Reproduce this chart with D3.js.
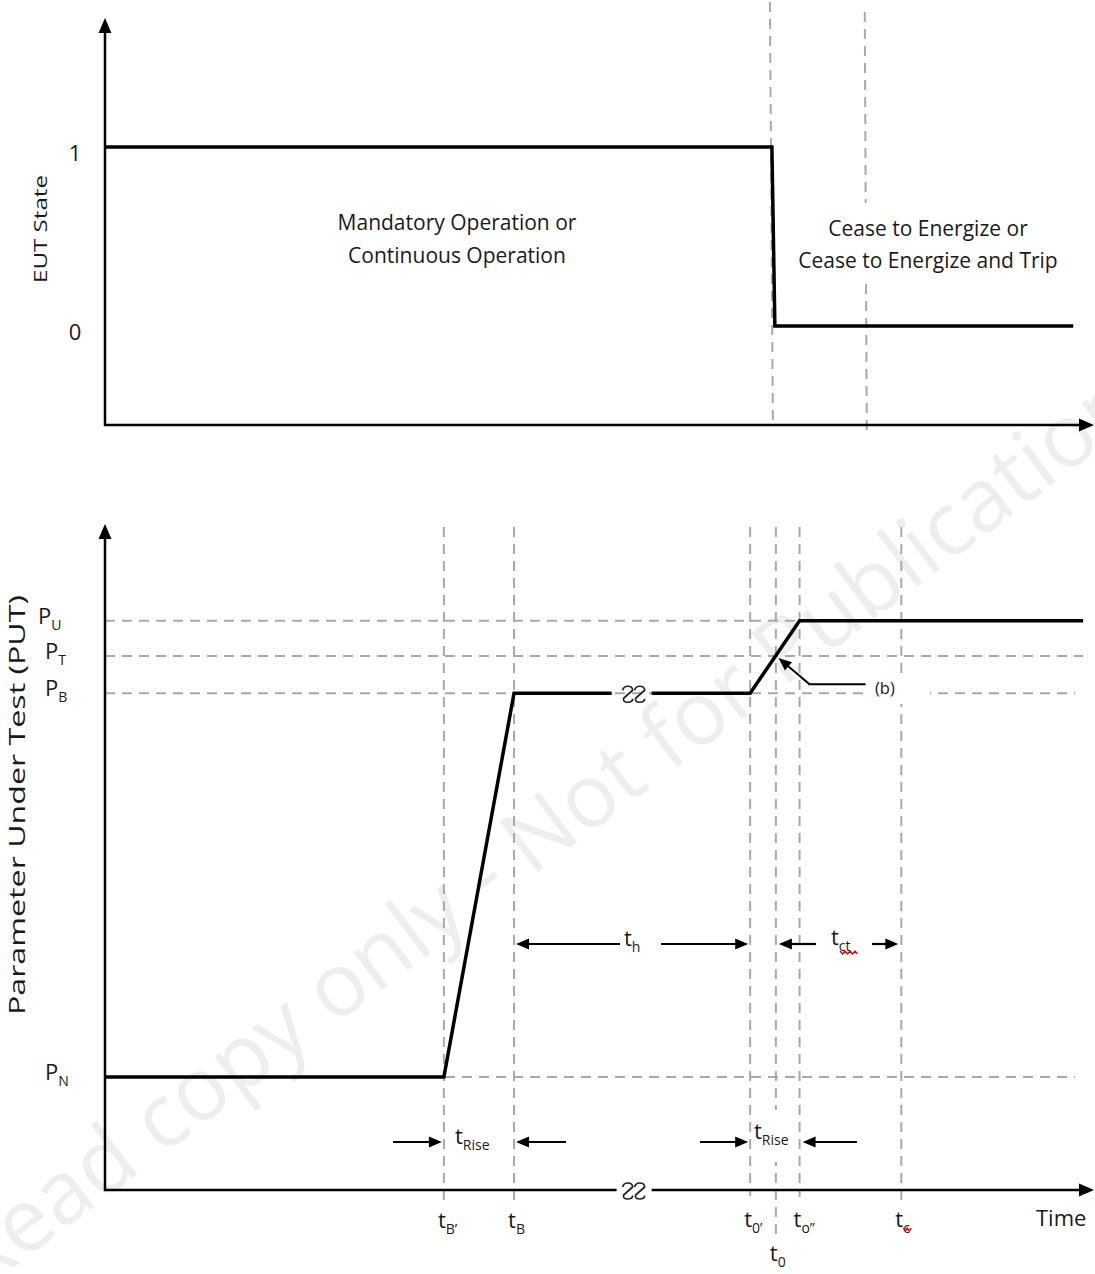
<!DOCTYPE html>
<html><head><meta charset="utf-8">
<script src="https://cdn.jsdelivr.net/npm/d3@7"></script>
<style>
body{margin:0;background:#fff}
svg{display:block}
text{font-family:"Open Sans",sans-serif;fill:#1a1a1a}
</style>
</head><body>
<script>
// ---- data ----------------------------------------------------------
// Time axis in arbitrary units, shared by both panels
const timeMarks   = ["B\u2019", "B", "0\u2019", "0", "o\u2019\u2019", "c"];
const timeValues  = [34.3, 41.4, 65.3, 67.9, 70.3, 80.6];
// EUT state trace
const stateTimes  = [0, 67.5, 67.8, 98.0];
const stateValues = [1, 1, 0, 0];
const stateTicks  = [0, 1];
const stateGuides = [67.4, 76.9];
// Parameter under test trace
const putTimes    = [0, 34.3, 41.4, 53.1, 65.3, 70.3, 99.0];
const putValues   = [17.0, 17.0, 74.7, 74.7, 74.7, 85.6, 85.6];
const levelNames  = ["N", "B", "T", "U"];
const levelValues = [17.0, 74.7, 80.3, 85.6];
const axisBreakAt = 53.1;

// ---- setup ---------------------------------------------------------
const W = 1095, H = 1274;
const svg = d3.select("body").append("svg").attr("width", W).attr("height", H);

const x = d3.scaleLinear().domain([0, 100]).range([105, 1093]);
const yTop = d3.scaleLinear().domain([0, 1]).range([326, 147]);
const yBot = d3.scaleLinear().domain([0, 100]).range([1190, 525]);

const GRID = "#a9a9a9";
const dash = "10,7";

// watermark
svg.append("text")
  .attr("transform", "translate(-22,1294) rotate(-37)")
  .attr("font-size", 88)
  .style("fill", "#eeeeee")
  .text("Read copy only - Not for Publication");

function arrowHead(g, x1, y1, x2, y2, len = 13, half = 5.5) {
  const a = Math.atan2(y2 - y1, x2 - x1);
  const bx = x2 - len * Math.cos(a), by = y2 - len * Math.sin(a);
  const px = -Math.sin(a) * half, py = Math.cos(a) * half;
  g.append("path")
    .attr("d", `M${x2},${y2}L${bx + px},${by + py}L${bx - px},${by - py}Z`)
    .attr("fill", "#000");
}
function arrow(g, x1, y1, x2, y2, w = 2.2) {
  const a = Math.atan2(y2 - y1, x2 - x1);
  g.append("line").attr("x1", x1).attr("y1", y1)
    .attr("x2", x2 - 8 * Math.cos(a)).attr("y2", y2 - 8 * Math.sin(a))
    .attr("stroke", "#000").attr("stroke-width", w);
  arrowHead(g, x1, y1, x2, y2);
}
// text with a subscript
function subText(g, px, py, main, sub, size = 22, subSize = 14, anchor = "start") {
  const t = g.append("text").attr("x", px).attr("y", py)
    .attr("font-size", size).attr("text-anchor", anchor);
  t.append("tspan").text(main);
  t.append("tspan").attr("font-size", subSize).attr("dy", 6).text(sub);
  return t;
}
// axis break glyph
function breakGlyph(g, cx, cy) {
  [-6, 6].forEach(off => {
    const x0 = cx + off - 5, y0 = cy - 8;
    g.append("path")
      .attr("d", `M${x0},${y0 + 4} Q${x0 + 1},${y0} ${x0 + 5},${y0} Q${x0 + 10},${y0} ${x0 + 10},${y0 + 4}
                  L${x0 + 1},${y0 + 12} Q${x0},${y0 + 16} ${x0 + 5},${y0 + 16} Q${x0 + 10},${y0 + 16} ${x0 + 10},${y0 + 12.5}`)
      .attr("fill", "none").attr("stroke", "#222").attr("stroke-width", 1.7);
  });
}

// ---- upper panel: EUT state ----------------------------------------
const gTop = svg.append("g");

stateGuides.forEach((t, i) => {
  gTop.append("line")
    .attr("x1", x(t) - (i === 0 ? 1 : 0)).attr("y1", i === 0 ? 2 : 12)
    .attr("x2", x(t) + 2).attr("y2", i === 0 ? 425 : 434)
    .attr("stroke", GRID).attr("stroke-width", 2).attr("stroke-dasharray", dash);
});

const blockFont = 21;
gTop.append("text").attr("x", 457).attr("y", 230).attr("text-anchor", "middle")
  .attr("font-size", blockFont).text("Mandatory Operation or");
gTop.append("text").attr("x", 457).attr("y", 263).attr("text-anchor", "middle")
  .attr("font-size", blockFont).text("Continuous Operation");
gTop.append("rect").attr("x", 796).attr("y", 203).attr("width", 264).attr("height", 79).attr("fill", "#fff");
gTop.append("text").attr("x", 928).attr("y", 236).attr("text-anchor", "middle")
  .attr("font-size", blockFont).text("Cease to Energize or");
gTop.append("text").attr("x", 928).attr("y", 268).attr("text-anchor", "middle")
  .attr("font-size", blockFont).text("Cease to Energize and Trip");

gTop.append("line").attr("x1", 105).attr("y1", 426).attr("x2", 105).attr("y2", 28)
  .attr("stroke", "#000").attr("stroke-width", 2.5);
arrowHead(gTop, 105, 40, 105, 18, 15, 6.5);
gTop.append("line").attr("x1", 104).attr("y1", 425).attr("x2", 1082).attr("y2", 425)
  .attr("stroke", "#000").attr("stroke-width", 2.5);
arrowHead(gTop, 1070, 425, 1094, 425, 15, 6.5);

stateTicks.forEach(v => {
  gTop.append("text").attr("x", 75).attr("y", yTop(v) + 14).attr("text-anchor", "middle")
    .attr("font-size", 22).text(v);
});
gTop.append("text").attr("transform", "translate(47,229) rotate(-90)")
  .attr("text-anchor", "middle").attr("font-size", 19)
  .attr("textLength", 108).attr("lengthAdjust", "spacingAndGlyphs").text("EUT State");

const stateLine = d3.line().x((d, i) => x(stateTimes[i])).y(d => yTop(d));
gTop.append("path").datum(stateValues).attr("d", stateLine)
  .attr("fill", "none").attr("stroke", "#000").attr("stroke-width", 3.5)
  .attr("stroke-linejoin", "miter");

// ---- lower panel: parameter under test -----------------------------
const gBot = svg.append("g");

levelValues.forEach((v, i) => {
  const end = (levelNames[i] === "U" || levelNames[i] === "T") ? 1083 : 1075;
  gBot.append("line").attr("x1", 105).attr("y1", yBot(v)).attr("x2", end).attr("y2", yBot(v))
    .attr("stroke", GRID).attr("stroke-width", 2).attr("stroke-dasharray", dash);
  subText(gBot, levelNames[i] === "U" ? 38 : 45, yBot(v) + 3, "P", levelNames[i], 22, 14);
});

const guideBottom = { "B\u2019": 1206, "B": 1206, "0\u2019": 1196, "0": 1234, "o\u2019\u2019": 1197, "c": 1201 };
timeValues.forEach((t, i) => {
  gBot.append("line").attr("x1", x(t)).attr("y1", 527).attr("x2", x(t)).attr("y2", guideBottom[timeMarks[i]])
    .attr("stroke", GRID).attr("stroke-width", 2).attr("stroke-dasharray", dash);
});

gBot.append("line").attr("x1", 105).attr("y1", 1191).attr("x2", 105).attr("y2", 535)
  .attr("stroke", "#000").attr("stroke-width", 2.5);
arrowHead(gBot, 105, 547, 105, 524, 15, 6.5);
gBot.append("line").attr("x1", 104).attr("y1", 1190).attr("x2", x(axisBreakAt) - 13).attr("y2", 1190)
  .attr("stroke", "#000").attr("stroke-width", 2.5);
gBot.append("line").attr("x1", x(axisBreakAt) + 22).attr("y1", 1190).attr("x2", 1082).attr("y2", 1190)
  .attr("stroke", "#000").attr("stroke-width", 2.5);
arrowHead(gBot, 1070, 1190, 1094, 1190, 15, 6.5);
breakGlyph(gBot, x(axisBreakAt) + 4, 1191);

gBot.append("text").attr("transform", "translate(25,805) rotate(-90)")
  .attr("text-anchor", "middle").attr("font-size", 21)
  .attr("textLength", 420).attr("lengthAdjust", "spacingAndGlyphs").text("Parameter Under Test (PUT)");

// PUT trace, split at the time-axis break
const pre = d3.range(0, 4), post = d3.range(3, putTimes.length);
const segLine = (idx, shift) => d3.line()
  .x((k, j) => x(putTimes[k]) + (j === shift.at ? shift.dx : 0))
  .y(k => yBot(putValues[k]))(idx);
gBot.append("path").attr("d", segLine(pre, { at: 3, dx: -18 }))
  .attr("fill", "none").attr("stroke", "#000").attr("stroke-width", 3.5);
gBot.append("path").attr("d", segLine(post, { at: 0, dx: 22 }))
  .attr("fill", "none").attr("stroke", "#000").attr("stroke-width", 3.5);
breakGlyph(gBot, x(axisBreakAt) + 4, yBot(putValues[3]) + 1);

// (b) annotation at the trip-threshold crossing
const tCross = timeValues[2] + (timeValues[4] - timeValues[2]) * (levelValues[2] - levelValues[1]) / (levelValues[3] - levelValues[1]);
const bx0 = x(tCross) + 3, by0 = yBot(levelValues[2]) + 2;
const legY = yBot(levelValues[1]) - 9;
gBot.append("line").attr("x1", x(tCross) + 33).attr("y1", legY).attr("x2", x(tCross) + 90).attr("y2", legY)
  .attr("stroke", "#000").attr("stroke-width", 2);
arrow(gBot, x(tCross) + 34, legY, bx0, by0, 2);
gBot.append("rect").attr("x", 868).attr("y", 680).attr("width", 62).attr("height", 24).attr("fill", "#fff");
gBot.append("text").attr("x", 875).attr("y", 694).attr("font-size", 16.5).text("(b)");

// duration arrows
const yDur = 944, yRise = 1142;
arrow(gBot, 620, yDur, x(timeValues[1]) + 2, yDur);
arrow(gBot, 661, yDur, x(timeValues[2]) - 2, yDur);
subText(gBot, 624, yDur + 2, "t", "h");
arrow(gBot, 816, yDur, x(timeValues[3]) + 3, yDur);
arrow(gBot, 872, yDur, x(timeValues[5]) - 3, yDur);
subText(gBot, 831, yDur + 1, "t", "ct");
gBot.append("path")
  .attr("d", "M840,951 l2.5,3 l2.5,-3 l2.5,3 l2.5,-3 l2.5,3 l2.5,-3 l2.5,3")
  .attr("fill", "none").attr("stroke", "#e00000").attr("stroke-width", 1.3);

arrow(gBot, 393, yRise, x(timeValues[0]) - 2, yRise);
arrow(gBot, 566, yRise, x(timeValues[1]) + 2, yRise);
subText(gBot, 455, yRise + 2, "t", "Rise");
gBot.append("rect").attr("x", 752).attr("y", 1110).attr("width", 46).attr("height", 52).attr("fill", "#fff");
arrow(gBot, 700, yRise, x(timeValues[2]) - 2, yRise);
arrow(gBot, 857, yRise, x(timeValues[4]) + 3, yRise);
subText(gBot, 754, yRise - 3, "t", "Rise");

// time mark labels
const labelY = { "B\u2019": 1228, "B": 1228, "0\u2019": 1227, "0": 1261, "o\u2019\u2019": 1227, "c": 1227 };
timeValues.forEach((t, i) => {
  subText(gBot, x(t) - 6, labelY[timeMarks[i]], "t", timeMarks[i]);
});
gBot.append("path")
  .attr("d", `M${x(timeValues[5]) + 2},1228 l2,3 l2,-3 l2,3 l2,-3`)
  .attr("fill", "none").attr("stroke", "#e00000").attr("stroke-width", 1.3);
gBot.append("text").attr("x", 1036).attr("y", 1226).attr("font-size", 22).text("Time");
</script>
</body></html>
